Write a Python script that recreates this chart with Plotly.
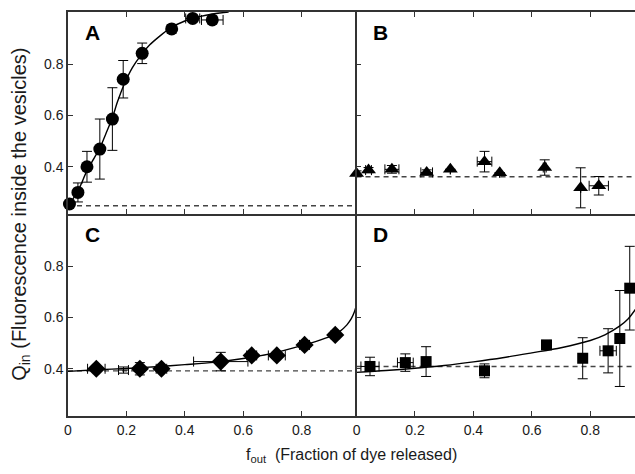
import plotly.graph_objects as go
from plotly.subplots import make_subplots

FONT = "Liberation Sans, Arial, Helvetica, sans-serif"
INK = "#1a1a1a"
AXIS = "#333333"

# panel A - circles
a_x = [0.005, 0.034, 0.065, 0.109, 0.152, 0.189, 0.254, 0.355, 0.427, 0.494]
a_y = [0.255, 0.300, 0.400, 0.469, 0.586, 0.741, 0.842, 0.937, 0.978, 0.972]
a_yerr = [0.0, 0.037, 0.06, 0.117, 0.122, 0.073, 0.04, 0.016, 0.012, 0.015]
a_xerr = [0.0, 0.0, 0.0, 0.0, 0.0, 0.0, 0.0, 0.01, 0.024, 0.037]
fit_a_x = [0, 0.02, 0.04, 0.065, 0.09, 0.11, 0.13, 0.15, 0.17, 0.19, 0.22, 0.25, 0.28, 0.31, 0.35, 0.4, 0.45, 0.5, 0.55]
fit_a_y = [0.25, 0.28, 0.32, 0.385, 0.435, 0.475, 0.53, 0.585, 0.655, 0.715, 0.785, 0.835, 0.875, 0.905, 0.94, 0.968, 0.985, 0.996, 1.003]

# panel B - triangles
b_x = [0.0, 0.041, 0.121, 0.24, 0.321, 0.438, 0.49, 0.644, 0.767, 0.829]
b_y = [0.374, 0.387, 0.39, 0.378, 0.39, 0.42, 0.377, 0.397, 0.318, 0.326]
b_yerr = [0.01, 0.01, 0.015, 0.01, 0.0, 0.04, 0.0, 0.03, 0.078, 0.036]
b_xerr = [0.0, 0.01, 0.024, 0.02, 0.0, 0.025, 0.0, 0.005, 0.0, 0.033]

# panel C - diamonds (second entry is a bare error cross)
c_x = [0.097, 0.19, 0.246, 0.32, 0.523, 0.629, 0.715, 0.81, 0.915]
c_y = [0.40, 0.395, 0.40, 0.40, 0.428, 0.452, 0.452, 0.493, 0.532]
c_yerr = [0.005, 0.012, 0.024, 0.01, 0.036, 0.015, 0.012, 0.015, 0.015]
c_xerr = [0.03, 0.017, 0.01, 0.018, 0.093, 0.017, 0.029, 0.017, 0.01]
c_size = [14, 0, 14, 14, 14, 14, 14, 14, 14]
fit_c_x = [0, 0.1, 0.2, 0.3, 0.4, 0.5, 0.6, 0.7, 0.8, 0.85, 0.9, 0.93, 0.955, 0.97, 0.98, 0.988]
fit_c_y = [0.39, 0.396, 0.401, 0.408, 0.416, 0.425, 0.44, 0.46, 0.49, 0.507, 0.527, 0.545, 0.571, 0.595, 0.62, 0.65]

# panel D - squares
d_x = [0.046, 0.167, 0.238, 0.438, 0.65, 0.774, 0.861, 0.901, 0.935]
d_y = [0.409, 0.424, 0.428, 0.392, 0.493, 0.441, 0.47, 0.518, 0.714]
d_yerr = [0.036, 0.034, 0.058, 0.027, 0.015, 0.08, 0.086, 0.187, 0.163]
d_xerr = [0.031, 0.027, 0.0, 0.01, 0.012, 0.0, 0.028, 0.0, 0.0]
fit_d_x = [0, 0.1, 0.2, 0.3, 0.4, 0.5, 0.6, 0.7, 0.8, 0.85, 0.9, 0.93, 0.96]
fit_d_y = [0.386, 0.393, 0.402, 0.413, 0.427, 0.443, 0.462, 0.482, 0.51, 0.532, 0.566, 0.595, 0.64]

# dashed baselines A, B, C, D
base_y = [0.248, 0.361, 0.392, 0.409]
panel_names = ["A", "B", "C", "D"]

X_RANGE = [[0, 0.988], [0, 0.953]]
Y_RANGE = [0.216, 1.003]

fig = make_subplots(rows=2, cols=2, horizontal_spacing=0, vertical_spacing=0,
                    column_widths=[288.4, 278.3])


def _points(x, y, xerr, yerr, symbol, size, row, col):
    fig.add_trace(
        go.Scatter(
            x=x, y=y, mode="markers",
            marker=dict(symbol=symbol, size=size, color="black", opacity=1,
                        line=dict(width=0)),
            error_y=dict(type="data", array=yerr, color="black", thickness=1, width=5),
            error_x=dict(type="data", array=xerr, color="black", thickness=1, width=5),
            cliponaxis=False,
        ),
        row=row, col=col,
    )


def _fit(x, y, row, col):
    fig.add_trace(
        go.Scatter(x=x, y=y, mode="lines",
                   line=dict(color="black", width=1.4, shape="spline", smoothing=0.8)),
        row=row, col=col,
    )


panels = [(1, 1), (1, 2), (2, 1), (2, 2)]
for i, (r, c) in enumerate(panels):
    fig.add_trace(
        go.Scatter(x=X_RANGE[c - 1], y=[base_y[i]] * 2, mode="lines",
                   line=dict(color="#444", width=1.4, dash="5px,4px")),
        row=r, col=c,
    )

_fit(fit_a_x, fit_a_y, 1, 1)
_points(a_x, a_y, a_xerr, a_yerr, "circle", 13, 1, 1)
_points(b_x, b_y, b_xerr, b_yerr, "triangle-up", 13, 1, 2)
_fit(fit_c_x, fit_c_y, 2, 1)
_points(c_x, c_y, c_xerr, c_yerr, "diamond", c_size, 2, 1)
_fit(fit_d_x, fit_d_y, 2, 2)
_points(d_x, d_y, d_xerr, d_yerr, "square", 11, 2, 2)

for i, (r, c) in enumerate(panels):
    # each shared border is drawn once: top row owns the middle horizontal line,
    # right column owns the middle vertical line
    fig.update_xaxes(
        range=X_RANGE[c - 1], tickvals=[0, 0.2, 0.4, 0.6, 0.8],
        ticks="inside", ticklen=5, tickwidth=1, tickcolor=AXIS,
        showline=True, linecolor=AXIS, linewidth=1.5,
        mirror="ticks" if r == 1 else False,
        showticklabels=(r == 2), showgrid=False, zeroline=False,
        tickfont=dict(size=14, color=INK, family=FONT),
        row=r, col=c,
    )
    fig.update_yaxes(
        range=Y_RANGE, tickvals=[0.4, 0.6, 0.8],
        ticks="inside", ticklen=5, tickwidth=1, tickcolor=AXIS,
        showline=True, linecolor=AXIS, linewidth=1.5, mirror=False,
        showticklabels=(c == 1), showgrid=False, zeroline=False,
        tickfont=dict(size=14, color=INK, family=FONT),
        row=r, col=c,
    )
    xref = "x domain" if i == 0 else f"x{i + 1} domain"
    yref = "y domain" if i == 0 else f"y{i + 1} domain"
    fig.add_annotation(
        text=f"<b>{panel_names[i]}</b>", x=0.085, y=0.9, xref=xref, yref=yref,
        xanchor="center", yanchor="middle", showarrow=False,
        font=dict(size=21, color="black", family=FONT),
    )

fig.add_annotation(
    text="Q<sub>in</sub> (Fluorescence inside the vesicles)",
    x=-0.085, y=0.5, xref="paper", yref="paper", textangle=-90,
    xanchor="center", yanchor="middle", showarrow=False,
    font=dict(size=20, color=INK, family=FONT),
)
fig.add_annotation(
    text="f<sub>out</sub>\u00a0\u00a0(Fraction of dye released)",
    x=0.5, y=-0.097, xref="paper", yref="paper",
    xanchor="center", yanchor="middle", showarrow=False,
    font=dict(size=16, color=INK, family=FONT),
)

fig.update_layout(
    width=635, height=474,
    margin=dict(l=68, r=0, t=12, b=58),
    paper_bgcolor="white", plot_bgcolor="white",
    showlegend=False, hovermode=False,
    font=dict(family=FONT, color=INK),
)

fig.write_html("out.html", config={"displayModeBar": False},
               post_script="document.body.style.margin='0';")
